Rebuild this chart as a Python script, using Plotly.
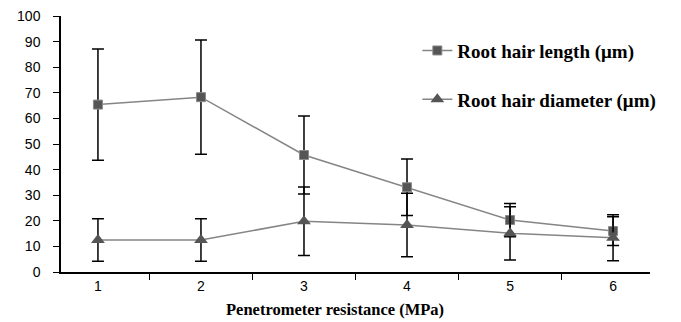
import plotly.graph_objects as go

categories = ["1", "2", "3", "4", "5", "6"]
length_vals = [65.4, 68.3, 45.7, 33.1, 20.3, 16.0]
length_err = [21.7, 22.3, 15.2, 11.0, 6.5, 5.6]
diam_vals = [12.5, 12.5, 19.8, 18.4, 15.1, 13.4]
diam_err = [8.3, 8.3, 13.4, 12.4, 10.4, 9.0]
y_ticks = [0, 10, 20, 30, 40, 50, 60, 70, 80, 90, 100]

fig = go.Figure()
fig.add_trace(go.Scatter(
    x=categories, y=length_vals, name="<b>Root hair length (\u03bcm)</b>",
    mode="lines+markers", legendgroup="a",
    line=dict(color="#858585", width=1.5),
    marker=dict(symbol="square", size=9, color="#555555", line=dict(color="#8a8a8a", width=1)),
    error_y=dict(type="data", array=length_err, visible=True, color="black", thickness=1.5, width=6),
))
fig.add_trace(go.Scatter(
    x=categories, y=diam_vals, name="<b>Root hair diameter (\u03bcm)</b>",
    mode="lines+markers", legendgroup="b",
    line=dict(color="#858585", width=1.5),
    marker=dict(symbol="triangle-up", size=12, color="#555555"),
    error_y=dict(type="data", array=diam_err, visible=True, color="black", thickness=1.5, width=6),
))

fig.update_layout(
    width=681, height=322,
    margin=dict(l=61, r=31, t=16, b=50),
    paper_bgcolor="white", plot_bgcolor="white",
    font=dict(family="Liberation Sans, Arial", size=14, color="black"),
    legend=dict(x=0.605, y=0.939, xanchor="left", yanchor="top",
                font=dict(family="Liberation Serif, Times New Roman", size=19, color="black"),
                bgcolor="rgba(0,0,0,0)", tracegroupgap=21, itemwidth=30),
    xaxis=dict(type="category", tickson="boundaries", ticks="outside", ticklen=6,
               tickcolor="black", showline=True, linecolor="black", linewidth=1.5,
               showgrid=False, zeroline=False, automargin=False),
    yaxis=dict(range=[0, 100], tickvals=y_ticks, ticks="outside", ticklen=6,
               tickcolor="black", showline=True, linecolor="black", linewidth=1.5,
               showgrid=False, zeroline=False, ticklabelstandoff=10, automargin=False),
    annotations=[dict(text="<b>Penetrometer resistance (MPa)</b>", xref="paper", yref="paper",
                      x=(335 - 61) / 589, y=-(309 - 272) / 256, xanchor="center", yanchor="middle",
                      showarrow=False,
                      font=dict(family="Liberation Serif, Times New Roman", size=16.5))],
)
fig.write_html("out.html", config={"displayModeBar": False})

with open("out.html", "r", encoding="utf-8") as f:
    html = f.read()
html = html.replace("<head>", "<head><style>html,body{margin:0;padding:0;overflow:hidden;}</style>", 1)
with open("out.html", "w", encoding="utf-8") as f:
    f.write(html)
